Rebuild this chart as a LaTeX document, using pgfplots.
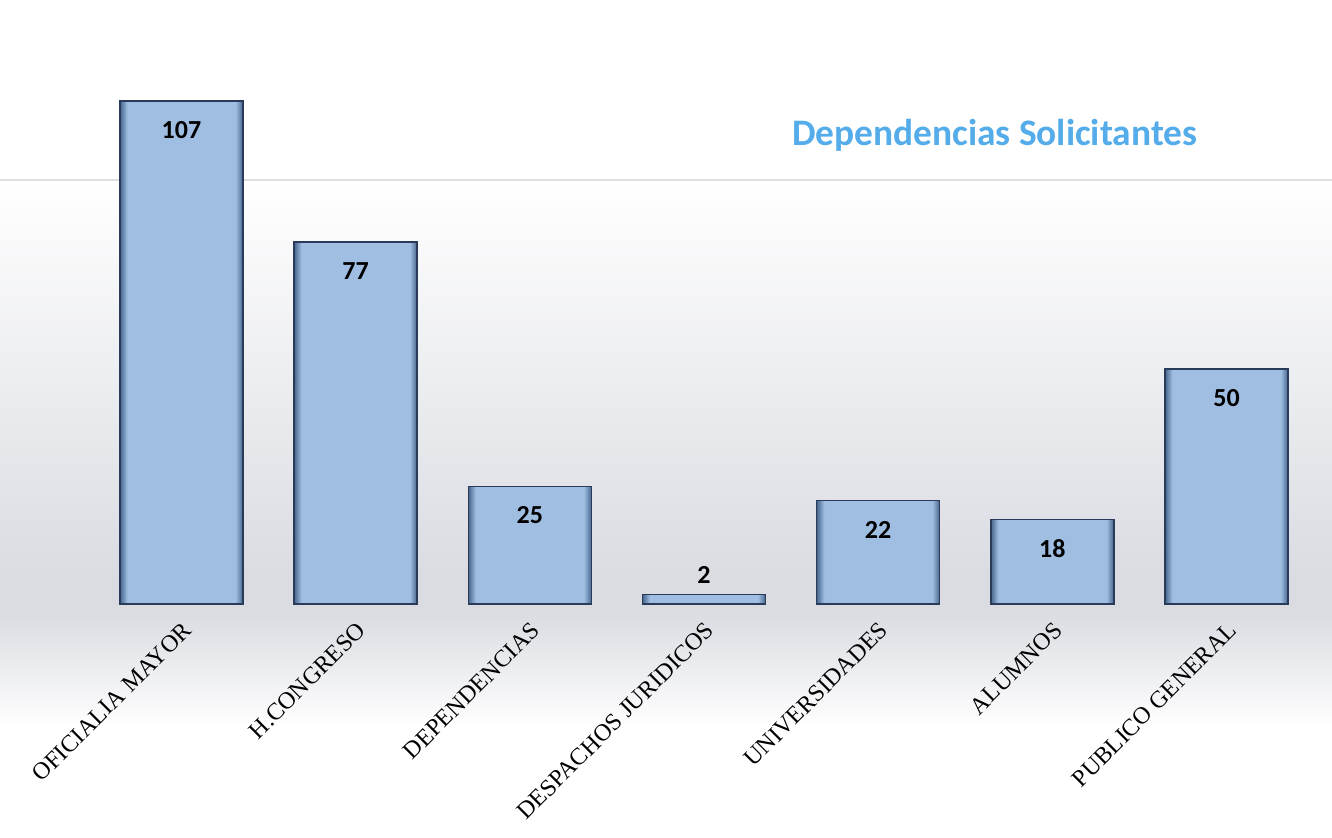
\documentclass[border=0pt]{standalone}
\usepackage{pgfplots}
\pgfplotsset{compat=1.18}
\usepackage{fontspec}
\setmainfont{Liberation Serif}
\newfontfamily\carlito{Carlito}
\definecolor{barfill}{RGB}{160,190,226}
\definecolor{barside}{RGB}{70,100,140}
\definecolor{baredge}{RGB}{40,60,90}
\definecolor{titleblue}{RGB}{84,172,234}
\definecolor{bggray}{RGB}{218,220,226}
\pgfdeclarehorizontalshading{barshade}{100bp}{color(0bp)=(barside); color(25bp)=(barside); color(28bp)=(barfill); color(72bp)=(barfill); color(75bp)=(barside); color(100bp)=(barside)}
\pgfplotsset{
  mybar/.style={ybar, draw=baredge, line width=0.8pt, shading=barshade,
    nodes near coords,
    nodes near coords style={anchor=center, yshift=#1, font=\carlito\bfseries\fontsize{13}{13}\selectfont, text=black}},
  mybar/.default={-14.5pt}
}
\begin{document}
\begin{tikzpicture}
\useasboundingbox (0,0) rectangle (666pt,418.5pt);
\fill[white] (0,0) rectangle (666pt,418.5pt);
\shade[top color=white, bottom color=bggray] (0,130pt) rectangle (666pt,328.5pt);
\fill[bggray] (0,112pt) rectangle (666pt,130pt);
\shade[top color=bggray, bottom color=white] (0,55pt) rectangle (666pt,112pt);
\draw[gray!25, line width=0.8pt] (0,328.5pt) -- (666pt,328.5pt);
\node[font=\carlito\bfseries\fontsize{18.7}{18.7}\selectfont, text=titleblue] at (497.3pt,351pt) {Dependencias Solicitantes};
\begin{axis}[
  at={(47.2pt,116.5pt)}, anchor=south west,
  width=609.6pt, height=282pt, scale only axis,
  xmin=-0.5, xmax=6.5, ymin=0, ymax=120,
  axis line style={draw=none},
  ytick=\empty,
  xtick={0,...,6},
  major tick length=0pt,
  /pgf/number format/assume math mode=true,
  xticklabels={OFICIALIA MAYOR,H.CONGRESO,DEPENDENCIAS,DESPACHOS JURIDICOS,UNIVERSIDADES,ALUMNOS,PUBLICO GENERAL},
  xticklabel style={rotate=45, anchor=east, font=\fontsize{12}{12}\selectfont, xshift=-2.5pt, yshift=-10pt},
  clip=false,
  ybar, bar width=61.5pt, bar shift=0pt,
]
\addplot[mybar] coordinates {(0,107)};
\addplot[mybar] coordinates {(1,77)};
\addplot[mybar] coordinates {(2,25)};
\addplot[mybar=10pt] coordinates {(3,2)};
\addplot[mybar] coordinates {(4,22)};
\addplot[mybar] coordinates {(5,18)};
\addplot[mybar] coordinates {(6,50)};
\end{axis}
\end{tikzpicture}
\end{document}
